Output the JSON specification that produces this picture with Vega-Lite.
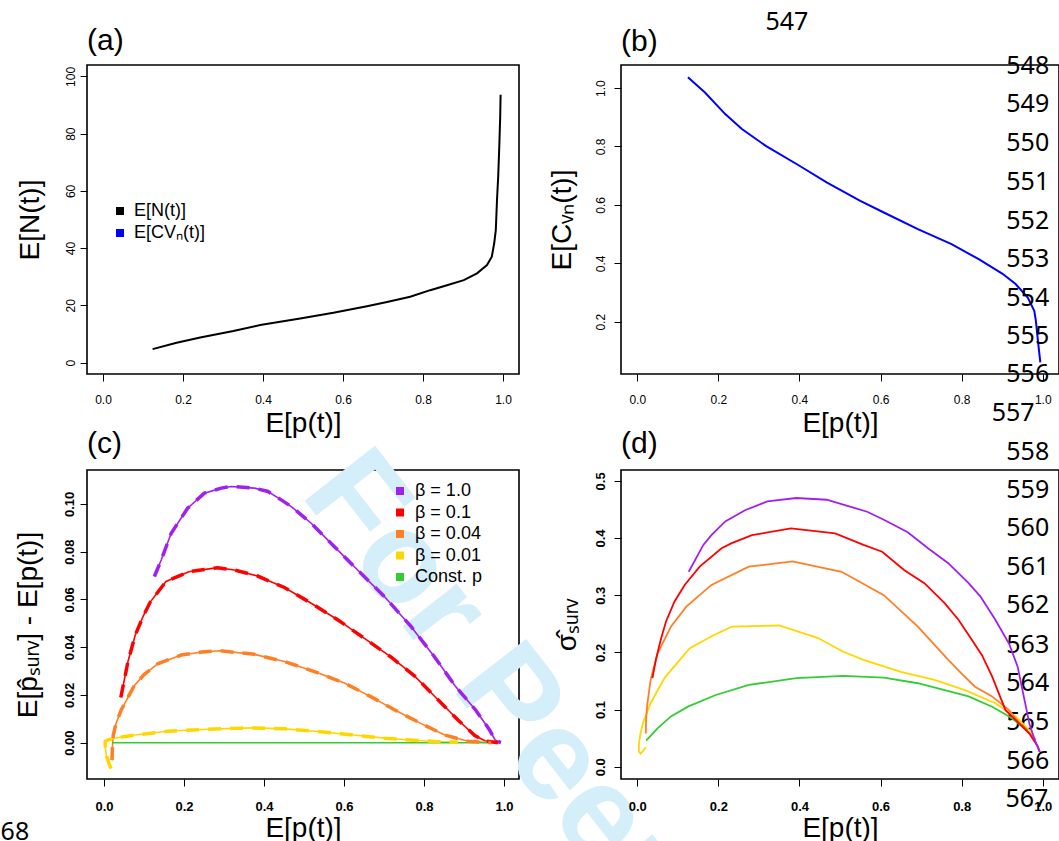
{
  "$schema": "https://vega.github.io/schema/vega-lite/v6.json",
  "autosize": {"type": "none"},
  "padding": {"left": 87, "top": 65, "right": 972, "bottom": 776},
  "background": "white",
  "bounds": "flush",
  "columns": 2,
  "spacing": {"row": 96, "column": 102},
  "resolve": {"scale": {"color": "independent", "x": "independent", "y": "independent"}, "legend": {"color": "independent"}},
  "config": {
    "font": "Liberation Sans",
    "view": {"stroke": "black", "strokeWidth": 1.6},
    "axis": {"grid": false, "domain": false, "tickColor": "black", "tickSize": 7, "tickWidth": 1, "labelColor": "black", "titleColor": "black", "titleFont": "Liberation Sans", "titleFontSize": 28, "titleFontWeight": "normal", "labelFont": "Liberation Sans", "labelFontSize": 12, "labelFlush": false, "labelOverlap": false},
    "axisY": {"labelAngle": 270, "labelAlign": "center", "labelBaseline": "alphabetic"},
    "title": {"anchor": "start", "frame": "group", "fontSize": 30, "fontWeight": "normal", "font": "Liberation Sans", "baseline": "alphabetic", "color": "black"},
    "legend": {"labelFont": "Liberation Sans", "labelFontSize": 18, "labelColor": "black", "padding": 0, "rowPadding": 2}
  },
  "concat": [
    {
      "width": 432, "height": 309,
      "title": {"text": "(a)", "offset": 9},
      "data": {"values": [
        {"p":0.124,"v":4.7,"s":"E[N(t)]"},{"p":0.184,"v":6.9,"s":"E[N(t)]"},{"p":0.243,"v":8.75,"s":"E[N(t)]"},
        {"p":0.326,"v":11.0,"s":"E[N(t)]"},{"p":0.393,"v":13.1,"s":"E[N(t)]"},{"p":0.493,"v":15.4,"s":"E[N(t)]"},
        {"p":0.576,"v":17.4,"s":"E[N(t)]"},{"p":0.660,"v":19.7,"s":"E[N(t)]"},{"p":0.710,"v":21.2,"s":"E[N(t)]"},
        {"p":0.768,"v":23.0,"s":"E[N(t)]"},{"p":0.818,"v":25.3,"s":"E[N(t)]"},{"p":0.860,"v":27.0,"s":"E[N(t)]"},
        {"p":0.902,"v":28.8,"s":"E[N(t)]"},{"p":0.935,"v":31.2,"s":"E[N(t)]"},{"p":0.960,"v":34.1,"s":"E[N(t)]"},
        {"p":0.972,"v":37.0,"s":"E[N(t)]"},{"p":0.978,"v":41.7,"s":"E[N(t)]"},{"p":0.982,"v":46.3,"s":"E[N(t)]"},
        {"p":0.985,"v":56.8,"s":"E[N(t)]"},{"p":0.988,"v":65.0,"s":"E[N(t)]"},{"p":0.991,"v":76.7,"s":"E[N(t)]"},
        {"p":0.993,"v":86.0,"s":"E[N(t)]"},{"p":0.994,"v":93.6,"s":"E[N(t)]"}
      ]},
      "mark": {"type": "line", "strokeWidth": 2},
      "encoding": {
        "x": {"field": "p", "type": "quantitative", "scale": {"domain": [-0.04, 1.04], "nice": false, "zero": false}, "axis": {"title": "E[p(t)]", "values": [0,0.2,0.4,0.6,0.8,1], "format": ".1f", "labelPadding": 13, "titlePadding": 4}},
        "y": {"field": "v", "type": "quantitative", "scale": {"domain": [-4, 104], "nice": false, "zero": false}, "axis": {"title": "E[N(t)]", "values": [0,20,40,60,80,100], "format": "d", "labelPadding": 6, "titlePadding": 20}},
        "color": {"field": "s", "type": "nominal", "scale": {"domain": ["E[N(t)]", "E[CVₙ(t)]"], "range": ["black", "blue"]},
          "legend": {"title": null, "orient": "none", "legendX": 24, "legendY": 137, "symbolType": "square", "labelOffset": 5,
            "encode": {"symbols": {"update": {"strokeWidth": {"value": 4}, "size": {"value": 16}, "shape": {"value": "square"}, "strokeDash": {"value": []}}}}}}
      }
    },
    {
      "width": 438, "height": 309,
      "title": {"text": "(b)", "offset": -46.5},
      "layer": [
        {
          "data": {"values": [
            {"p":0.125,"v":1.037},{"p":0.167,"v":0.985},{"p":0.217,"v":0.911},{"p":0.258,"v":0.860},
            {"p":0.317,"v":0.802},{"p":0.400,"v":0.734},{"p":0.467,"v":0.677},{"p":0.550,"v":0.614},
            {"p":0.608,"v":0.574},{"p":0.692,"v":0.517},{"p":0.775,"v":0.466},{"p":0.842,"v":0.414},
            {"p":0.900,"v":0.365},{"p":0.933,"v":0.329},{"p":0.963,"v":0.283},{"p":0.979,"v":0.237},
            {"p":0.983,"v":0.203},{"p":0.988,"v":0.135},{"p":0.994,"v":0.061}
          ]},
          "mark": {"type": "line", "strokeWidth": 2, "color": "blue"},
          "encoding": {
            "x": {"field": "p", "type": "quantitative", "scale": {"domain": [-0.04, 1.04], "nice": false, "zero": false}, "axis": {"title": "E[p(t)]", "values": [0,0.2,0.4,0.6,0.8,1], "format": ".1f", "labelPadding": 13, "titlePadding": 4}},
            "y": {"field": "v", "type": "quantitative", "scale": {"domain": [0.021, 1.079], "nice": false, "zero": false}, "axis": {"title": "E[Cᵥₙ(t)]", "values": [0.2,0.4,0.6,0.8,1.0], "format": ".1f", "labelPadding": 10, "titlePadding": 18}}
          }
        },
        {
          "data": {"values": [
            {"p":0.369,"v":1.2247,"txt":"547"},{"p":0.963,"v":1.0764,"txt":"548"},{"p":0.963,"v":0.946,"txt":"549"},
            {"p":0.963,"v":0.813,"txt":"550"},{"p":0.963,"v":0.679,"txt":"551"},{"p":0.963,"v":0.546,"txt":"552"},
            {"p":0.963,"v":0.415,"txt":"553"},{"p":0.963,"v":0.282,"txt":"554"},{"p":0.963,"v":0.152,"txt":"555"},
            {"p":0.963,"v":0.0195,"txt":"556"},{"p":0.927,"v":-0.112,"txt":"557"},
            {"p":0.963,"v":-0.2451,"txt":"558"},{"p":0.963,"v":-0.3762,"txt":"559"},{"p":0.963,"v":-0.5063,"txt":"560"},
            {"p":0.963,"v":-0.6388,"txt":"561"},{"p":0.963,"v":-0.7699,"txt":"562"},{"p":0.963,"v":-0.9070,"txt":"563"},
            {"p":0.963,"v":-1.0371,"txt":"564"},{"p":0.963,"v":-1.1695,"txt":"565"},{"p":0.963,"v":-1.3041,"txt":"566"},
            {"p":0.961,"v":-1.4342,"txt":"567"}
          ]},
          "mark": {"type": "text", "font": "Noto Sans", "fontSize": 25, "align": "center", "baseline": "middle", "color": "black"},
          "encoding": {
            "x": {"field": "p", "type": "quantitative"},
            "y": {"field": "v", "type": "quantitative"},
            "text": {"field": "txt"}
          }
        }
      ]
    },
    {
      "width": 432, "height": 309,
      "title": {"text": "(c)", "offset": -29},
      "encoding": {
        "x": {"field": "p", "type": "quantitative", "scale": {"domain": [-0.0425, 1.0375], "nice": false, "zero": false}, "axis": {"title": "E[p(t)]", "values": [0,0.2,0.4,0.6,0.8,1], "format": ".1f", "labelPadding": 14, "titlePadding": 1, "labelFontWeight": "bold", "labelFontSize": 13}},
        "y": {"field": "v", "type": "quantitative", "scale": {"domain": [-0.0152, 0.1142], "nice": false, "zero": false}, "axis": {"title": "E[p̂ₛᵤᵣᵥ] - E[p(t)]", "values": [0,0.02,0.04,0.06,0.08,0.1], "format": ".2f", "labelPadding": 7, "titlePadding": 21, "labelFontWeight": "bold", "labelFontSize": 13}}
      },
      "layer": [
        {
          "data": {"values": [{"p": 0.488, "v": 0.1042, "txt": "For Peer Review"}]},
          "mark": {"type": "text", "align": "left", "baseline": "alphabetic", "angle": 52, "fontSize": 130, "fontWeight": "bold", "font": "Liberation Sans", "color": "#d4eefa"},
          "encoding": {"text": {"field": "txt"}}
        },
        {
          "data": {"values": [{"p": -0.187, "v": -0.0373, "txt": "568"}]},
          "mark": {"type": "text", "align": "right", "baseline": "middle", "font": "Noto Sans", "fontSize": 25, "color": "black"},
          "encoding": {"text": {"field": "txt"}}
        },
        {
          "data": {"name": "cdata"},
          "mark": {"type": "line", "strokeWidth": 1.6},
          "encoding": {
            "order": {"field": "i", "type": "quantitative"},
            "color": {"field": "s", "type": "nominal", "scale": {"domain": ["β = 1.0", "β = 0.1", "β = 0.04", "β = 0.01", "Const. p"], "range": ["#a020f0", "#ff0000", "#ff7f24", "#ffd700", "#32cd32"]},
              "legend": {"title": null, "orient": "none", "legendX": 304, "legendY": 12, "symbolType": "square", "labelOffset": 6, "rowPadding": 1.5,
                "encode": {"symbols": {"update": {"strokeWidth": {"value": 4}, "size": {"value": 16}, "shape": {"value": "square"}, "strokeDash": {"value": []}}}}}}
          }
        },
        {
          "data": {"name": "cdata"},
          "transform": [{"filter": "datum.s != 'Const. p'"}],
          "mark": {"type": "line", "strokeWidth": 3.5, "strokeDash": [13, 9]},
          "encoding": {
            "order": {"field": "i", "type": "quantitative"},
            "color": {"field": "s", "type": "nominal"}
          }
        }
      ]
    },
    {
      "width": 438, "height": 309,
      "title": {"text": "(d)", "offset": 11},
      "data": {"name": "ddata"},
      "mark": {"type": "line", "strokeWidth": 1.8},
      "encoding": {
        "x": {"field": "p", "type": "quantitative", "scale": {"domain": [-0.04, 1.04], "nice": false, "zero": false}, "axis": {"title": "E[p(t)]", "values": [0,0.2,0.4,0.6,0.8,1], "format": ".1f", "labelPadding": 14, "titlePadding": 1, "labelFontWeight": "bold", "labelFontSize": 13}},
        "y": {"field": "v", "type": "quantitative", "scale": {"domain": [-0.0215, 0.519], "nice": false, "zero": false}, "axis": {"title": "σ̂ₛᵤᵣᵥ", "values": [0,0.1,0.2,0.3,0.4,0.5], "format": ".1f", "labelPadding": 10, "titlePadding": 13, "labelFontWeight": "bold", "labelFontSize": 13}},
        "order": {"field": "i", "type": "quantitative"},
        "color": {"field": "s", "type": "nominal", "scale": {"domain": ["β = 1.0", "β = 0.1", "β = 0.04", "β = 0.01", "Const. p"], "range": ["#a020f0", "#ff0000", "#ff7f24", "#ffd700", "#32cd32"]}, "legend": null}
      }
    }
  ],
  "datasets": {
    "cdata": [
      {"s":"β = 1.0","i":0,"p":0.126,"v":0.0696},{"s":"β = 1.0","i":1,"p":0.143,"v":0.0765},{"s":"β = 1.0","i":2,"p":0.168,"v":0.0877},
      {"s":"β = 1.0","i":3,"p":0.209,"v":0.0982},{"s":"β = 1.0","i":4,"p":0.251,"v":0.1045},{"s":"β = 1.0","i":5,"p":0.293,"v":0.1066},
      {"s":"β = 1.0","i":6,"p":0.318,"v":0.1073},{"s":"β = 1.0","i":7,"p":0.376,"v":0.1066},{"s":"β = 1.0","i":8,"p":0.410,"v":0.1052},
      {"s":"β = 1.0","i":9,"p":0.443,"v":0.1017},{"s":"β = 1.0","i":10,"p":0.468,"v":0.0989},{"s":"β = 1.0","i":11,"p":0.518,"v":0.0919},
      {"s":"β = 1.0","i":12,"p":0.576,"v":0.0821},{"s":"β = 1.0","i":13,"p":0.634,"v":0.0723},{"s":"β = 1.0","i":14,"p":0.701,"v":0.0612},
      {"s":"β = 1.0","i":15,"p":0.768,"v":0.0486},{"s":"β = 1.0","i":16,"p":0.826,"v":0.0360},{"s":"β = 1.0","i":17,"p":0.877,"v":0.0240},
      {"s":"β = 1.0","i":18,"p":0.930,"v":0.0135},{"s":"β = 1.0","i":19,"p":0.964,"v":0.0053},{"s":"β = 1.0","i":20,"p":0.978,"v":0.0011},
      {"s":"β = 1.0","i":21,"p":0.992,"v":0.0},
      {"s":"β = 0.1","i":0,"p":0.042,"v":0.019},{"s":"β = 0.1","i":1,"p":0.060,"v":0.034},{"s":"β = 0.1","i":2,"p":0.078,"v":0.045},
      {"s":"β = 0.1","i":3,"p":0.098,"v":0.053},{"s":"β = 0.1","i":4,"p":0.116,"v":0.059},{"s":"β = 0.1","i":5,"p":0.155,"v":0.0675},
      {"s":"β = 0.1","i":6,"p":0.212,"v":0.0716},{"s":"β = 0.1","i":7,"p":0.284,"v":0.0733},{"s":"β = 0.1","i":8,"p":0.326,"v":0.0723},
      {"s":"β = 0.1","i":9,"p":0.384,"v":0.0698},{"s":"β = 0.1","i":10,"p":0.451,"v":0.0650},{"s":"β = 0.1","i":11,"p":0.518,"v":0.0584},
      {"s":"β = 0.1","i":12,"p":0.585,"v":0.0514},{"s":"β = 0.1","i":13,"p":0.651,"v":0.0437},{"s":"β = 0.1","i":14,"p":0.718,"v":0.0358},
      {"s":"β = 0.1","i":15,"p":0.776,"v":0.0280},{"s":"β = 0.1","i":16,"p":0.835,"v":0.0180},{"s":"β = 0.1","i":17,"p":0.885,"v":0.0095},
      {"s":"β = 0.1","i":18,"p":0.927,"v":0.0030},{"s":"β = 0.1","i":19,"p":0.952,"v":0.0008},{"s":"β = 0.1","i":20,"p":0.985,"v":0.0},
      {"s":"β = 0.04","i":0,"p":0.020,"v":-0.0073},{"s":"β = 0.04","i":1,"p":0.021,"v":-0.002},{"s":"β = 0.04","i":2,"p":0.023,"v":0.003},
      {"s":"β = 0.04","i":3,"p":0.030,"v":0.008},{"s":"β = 0.04","i":4,"p":0.043,"v":0.0137},{"s":"β = 0.04","i":5,"p":0.060,"v":0.019},
      {"s":"β = 0.04","i":6,"p":0.076,"v":0.0240},{"s":"β = 0.04","i":7,"p":0.100,"v":0.0285},{"s":"β = 0.04","i":8,"p":0.134,"v":0.0330},
      {"s":"β = 0.04","i":9,"p":0.193,"v":0.0367},{"s":"β = 0.04","i":10,"p":0.245,"v":0.0380},{"s":"β = 0.04","i":11,"p":0.290,"v":0.0385},
      {"s":"β = 0.04","i":12,"p":0.376,"v":0.0370},{"s":"β = 0.04","i":13,"p":0.451,"v":0.0340},{"s":"β = 0.04","i":14,"p":0.526,"v":0.0298},
      {"s":"β = 0.04","i":15,"p":0.601,"v":0.0250},{"s":"β = 0.04","i":16,"p":0.668,"v":0.0192},{"s":"β = 0.04","i":17,"p":0.726,"v":0.0138},
      {"s":"β = 0.04","i":18,"p":0.793,"v":0.0080},{"s":"β = 0.04","i":19,"p":0.852,"v":0.0032},{"s":"β = 0.04","i":20,"p":0.910,"v":0.0006},
      {"s":"β = 0.04","i":21,"p":0.968,"v":0.0},
      {"s":"β = 0.01","i":0,"p":0.0175,"v":-0.0108},{"s":"β = 0.01","i":1,"p":0.012,"v":-0.0085},{"s":"β = 0.01","i":2,"p":0.006,"v":-0.0055},
      {"s":"β = 0.01","i":3,"p":0.003,"v":-0.002},{"s":"β = 0.01","i":4,"p":0.003,"v":0.0005},{"s":"β = 0.01","i":5,"p":0.010,"v":0.0012},
      {"s":"β = 0.01","i":6,"p":0.030,"v":0.0020},{"s":"β = 0.01","i":7,"p":0.076,"v":0.0032},{"s":"β = 0.01","i":8,"p":0.159,"v":0.0048},
      {"s":"β = 0.01","i":9,"p":0.243,"v":0.0055},{"s":"β = 0.01","i":10,"p":0.326,"v":0.0060},{"s":"β = 0.01","i":11,"p":0.376,"v":0.0062},
      {"s":"β = 0.01","i":12,"p":0.451,"v":0.0058},{"s":"β = 0.01","i":13,"p":0.535,"v":0.0047},{"s":"β = 0.01","i":14,"p":0.618,"v":0.0033},
      {"s":"β = 0.01","i":15,"p":0.701,"v":0.0019},{"s":"β = 0.01","i":16,"p":0.785,"v":0.0009},{"s":"β = 0.01","i":17,"p":0.827,"v":0.0005},
      {"s":"β = 0.01","i":18,"p":0.885,"v":0.0002},
      {"s":"Const. p","i":0,"p":0.02,"v":0.0},{"s":"Const. p","i":1,"p":0.5,"v":0.0},{"s":"Const. p","i":2,"p":0.992,"v":0.0}
    ],
    "ddata": [
      {"s":"Const. p","i":0,"p":0.022,"v":0.0455},{"s":"Const. p","i":1,"p":0.05,"v":0.067},{"s":"Const. p","i":2,"p":0.083,"v":0.088},
      {"s":"Const. p","i":3,"p":0.125,"v":0.105},{"s":"Const. p","i":4,"p":0.192,"v":0.125},{"s":"Const. p","i":5,"p":0.275,"v":0.143},
      {"s":"Const. p","i":6,"p":0.392,"v":0.155},{"s":"Const. p","i":7,"p":0.508,"v":0.159},{"s":"Const. p","i":8,"p":0.608,"v":0.156},
      {"s":"Const. p","i":9,"p":0.692,"v":0.146},{"s":"Const. p","i":10,"p":0.758,"v":0.134},{"s":"Const. p","i":11,"p":0.817,"v":0.123},
      {"s":"Const. p","i":12,"p":0.875,"v":0.105},{"s":"Const. p","i":13,"p":0.917,"v":0.088},{"s":"Const. p","i":14,"p":0.950,"v":0.070},
      {"s":"Const. p","i":15,"p":0.975,"v":0.053},
      {"s":"β = 0.01","i":0,"p":0.021,"v":0.034},{"s":"β = 0.01","i":1,"p":0.014,"v":0.027},{"s":"β = 0.01","i":2,"p":0.008,"v":0.023},
      {"s":"β = 0.01","i":3,"p":0.004,"v":0.027},{"s":"β = 0.01","i":4,"p":0.004,"v":0.040},{"s":"β = 0.01","i":5,"p":0.008,"v":0.058},
      {"s":"β = 0.01","i":6,"p":0.015,"v":0.078},{"s":"β = 0.01","i":7,"p":0.033,"v":0.111},{"s":"β = 0.01","i":8,"p":0.067,"v":0.155},
      {"s":"β = 0.01","i":9,"p":0.129,"v":0.207},{"s":"β = 0.01","i":10,"p":0.188,"v":0.230},{"s":"β = 0.01","i":11,"p":0.233,"v":0.245},
      {"s":"β = 0.01","i":12,"p":0.350,"v":0.247},{"s":"β = 0.01","i":13,"p":0.446,"v":0.225},{"s":"β = 0.01","i":14,"p":0.508,"v":0.201},
      {"s":"β = 0.01","i":15,"p":0.558,"v":0.187},{"s":"β = 0.01","i":16,"p":0.650,"v":0.166},{"s":"β = 0.01","i":17,"p":0.733,"v":0.152},
      {"s":"β = 0.01","i":18,"p":0.808,"v":0.134},{"s":"β = 0.01","i":19,"p":0.883,"v":0.111},{"s":"β = 0.01","i":20,"p":0.933,"v":0.088},
      {"s":"β = 0.01","i":21,"p":0.975,"v":0.058},
      {"s":"β = 0.04","i":0,"p":0.021,"v":0.058},{"s":"β = 0.04","i":1,"p":0.022,"v":0.085},{"s":"β = 0.04","i":2,"p":0.025,"v":0.110},
      {"s":"β = 0.04","i":3,"p":0.033,"v":0.152},{"s":"β = 0.04","i":4,"p":0.050,"v":0.198},{"s":"β = 0.04","i":5,"p":0.083,"v":0.245},
      {"s":"β = 0.04","i":6,"p":0.121,"v":0.280},{"s":"β = 0.04","i":7,"p":0.183,"v":0.318},{"s":"β = 0.04","i":8,"p":0.275,"v":0.350},
      {"s":"β = 0.04","i":9,"p":0.383,"v":0.359},{"s":"β = 0.04","i":10,"p":0.504,"v":0.341},{"s":"β = 0.04","i":11,"p":0.608,"v":0.300},
      {"s":"β = 0.04","i":12,"p":0.692,"v":0.245},{"s":"β = 0.04","i":13,"p":0.767,"v":0.187},{"s":"β = 0.04","i":14,"p":0.800,"v":0.163},
      {"s":"β = 0.04","i":15,"p":0.833,"v":0.140},{"s":"β = 0.04","i":16,"p":0.875,"v":0.123},{"s":"β = 0.04","i":17,"p":0.917,"v":0.099},
      {"s":"β = 0.04","i":18,"p":0.950,"v":0.070},{"s":"β = 0.04","i":19,"p":0.983,"v":0.047},
      {"s":"β = 0.1","i":0,"p":0.0375,"v":0.155},{"s":"β = 0.1","i":1,"p":0.046,"v":0.187},{"s":"β = 0.1","i":2,"p":0.058,"v":0.222},
      {"s":"β = 0.1","i":3,"p":0.071,"v":0.254},{"s":"β = 0.1","i":4,"p":0.092,"v":0.289},{"s":"β = 0.1","i":5,"p":0.117,"v":0.318},
      {"s":"β = 0.1","i":6,"p":0.154,"v":0.350},{"s":"β = 0.1","i":7,"p":0.208,"v":0.382},{"s":"β = 0.1","i":8,"p":0.233,"v":0.391},
      {"s":"β = 0.1","i":9,"p":0.283,"v":0.405},{"s":"β = 0.1","i":10,"p":0.379,"v":0.417},{"s":"β = 0.1","i":11,"p":0.488,"v":0.408},
      {"s":"β = 0.1","i":12,"p":0.558,"v":0.388},{"s":"β = 0.1","i":13,"p":0.604,"v":0.376},{"s":"β = 0.1","i":14,"p":0.658,"v":0.344},
      {"s":"β = 0.1","i":15,"p":0.708,"v":0.321},{"s":"β = 0.1","i":16,"p":0.758,"v":0.286},{"s":"β = 0.1","i":17,"p":0.792,"v":0.257},
      {"s":"β = 0.1","i":18,"p":0.825,"v":0.222},{"s":"β = 0.1","i":19,"p":0.850,"v":0.195},{"s":"β = 0.1","i":20,"p":0.875,"v":0.158},
      {"s":"β = 0.1","i":21,"p":0.908,"v":0.099},{"s":"β = 0.1","i":22,"p":0.933,"v":0.082},{"s":"β = 0.1","i":23,"p":0.967,"v":0.058},
      {"s":"β = 0.1","i":24,"p":0.988,"v":0.035},{"s":"β = 0.1","i":25,"p":0.992,"v":0.026},
      {"s":"β = 1.0","i":0,"p":0.127,"v":0.341},{"s":"β = 1.0","i":1,"p":0.163,"v":0.388},{"s":"β = 1.0","i":2,"p":0.183,"v":0.405},
      {"s":"β = 1.0","i":3,"p":0.217,"v":0.429},{"s":"β = 1.0","i":4,"p":0.267,"v":0.449},{"s":"β = 1.0","i":5,"p":0.321,"v":0.464},
      {"s":"β = 1.0","i":6,"p":0.392,"v":0.470},{"s":"β = 1.0","i":7,"p":0.467,"v":0.467},{"s":"β = 1.0","i":8,"p":0.567,"v":0.446},
      {"s":"β = 1.0","i":9,"p":0.608,"v":0.432},{"s":"β = 1.0","i":10,"p":0.667,"v":0.410},{"s":"β = 1.0","i":11,"p":0.717,"v":0.382},
      {"s":"β = 1.0","i":12,"p":0.767,"v":0.356},{"s":"β = 1.0","i":13,"p":0.817,"v":0.321},{"s":"β = 1.0","i":14,"p":0.846,"v":0.298},
      {"s":"β = 1.0","i":15,"p":0.883,"v":0.257},{"s":"β = 1.0","i":16,"p":0.917,"v":0.215},{"s":"β = 1.0","i":17,"p":0.938,"v":0.175},
      {"s":"β = 1.0","i":18,"p":0.954,"v":0.120},{"s":"β = 1.0","i":19,"p":0.967,"v":0.075},{"s":"β = 1.0","i":20,"p":0.981,"v":0.045},
      {"s":"β = 1.0","i":21,"p":0.993,"v":0.026}
    ]
  }
}
